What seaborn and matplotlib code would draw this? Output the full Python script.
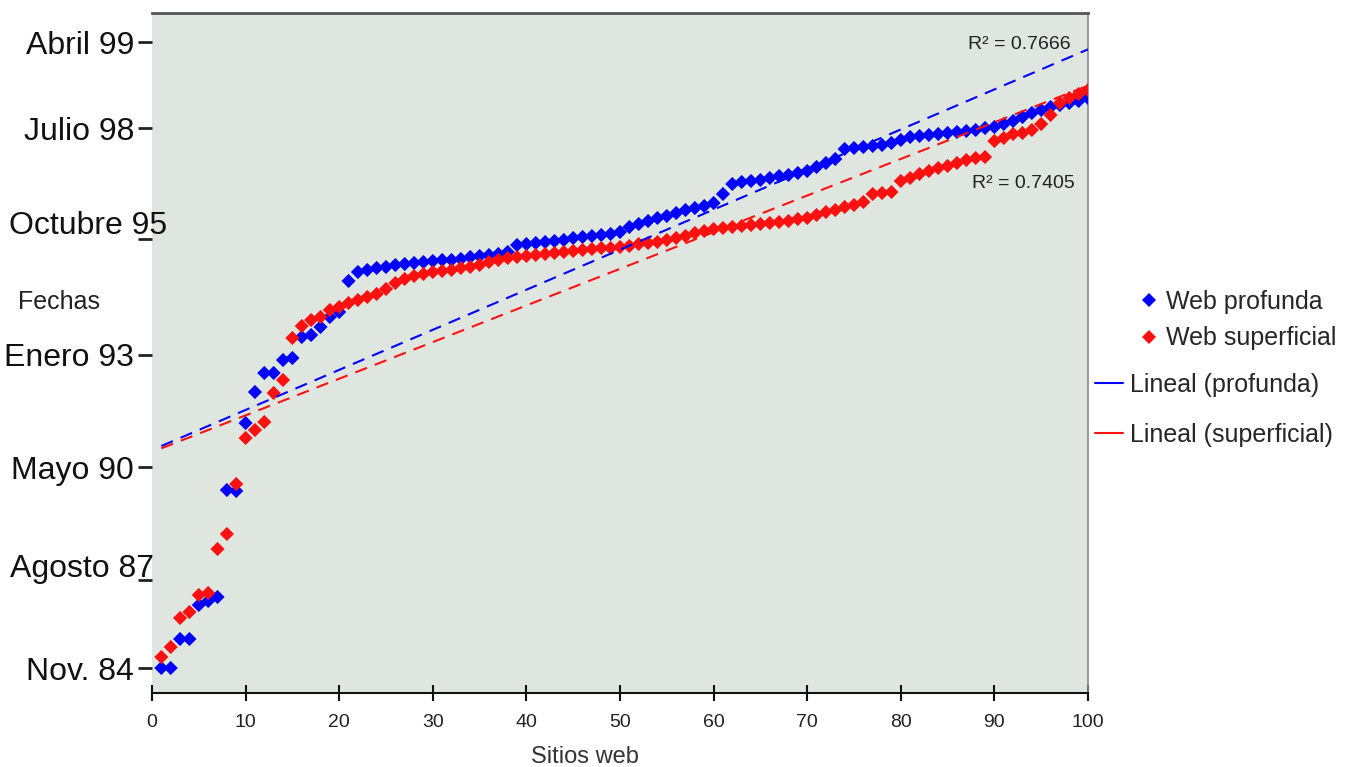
import numpy as np
import pandas as pd
import matplotlib
matplotlib.use("Agg")
import matplotlib.pyplot as plt
import matplotlib.transforms as mtransforms
from matplotlib.lines import Line2D
import seaborn as sns

# sitios web ordenados (eje x)
sitios = list(range(1, 101))

# posicion de la fecha de creacion en la escala del eje y (escala propia del grafico)
profunda = [25, 25, 54, 54, 88, 92, 96, 203, 202, 270,
            301, 320, 320, 333, 335, 356, 358, 366, 376, 381,
            412, 421, 423, 425, 426, 428, 429, 430, 431, 432,
            433, 433, 434, 436, 437, 438, 439, 441, 448, 449,
            450, 451, 452, 453, 455, 456, 457, 458, 459, 461,
            466, 469, 472, 475, 477, 480, 483, 485, 487, 490,
            499, 509, 511, 512, 513, 515, 517, 518, 520, 522,
            526, 530, 534, 544, 545, 546, 547, 548, 550, 553,
            556, 557, 558, 559, 560, 561, 562, 563, 565, 566,
            569, 572, 576, 580, 583, 586, 588, 590, 592, 595]

superficial = [36, 46, 75, 81, 98, 100, 144, 159, 209, 255,
               263, 271, 300, 313, 355, 367, 373, 376, 383, 386,
               390, 393, 396, 399, 404, 410, 414, 417, 419, 421,
               422, 423, 425, 426, 428, 431, 433, 435, 436, 437,
               438, 439, 440, 441, 442, 443, 444, 445, 445, 446,
               447, 449, 450, 451, 453, 455, 457, 460, 462, 464,
               465, 466, 467, 468, 469, 470, 471, 472, 474, 475,
               478, 481, 483, 486, 488, 491, 499, 500, 501, 512,
               515, 519, 522, 525, 527, 530, 533, 535, 536, 552,
               555, 559, 560, 563, 569, 578, 590, 595, 599, 603]

fecha_pos = [25, 113, 226, 338, 454, 565, 651]
fecha_labels = ["Nov. 84", "Agosto 87", "Mayo 90", "Enero 93",
                "Octubre 95", "Julio 98", "Abril 99"]
x_ticks = list(range(0, 101, 10))
r2_profunda = "R² = 0.7666"
r2_superficial = "R² = 0.7405"

BLUE = "#0000ff"
RED = "#ff1010"

sns.set_style("white")
plt.rcParams["font.family"] = ["Liberation Sans", "DejaVu Sans"]

df = pd.DataFrame({
    "sitio": sitios * 2,
    "fecha": profunda + superficial,
    "serie": ["Web profunda"] * len(profunda) + ["Web superficial"] * len(superficial),
})

fig = plt.figure(figsize=(13.56, 7.67), dpi=100)
ax = fig.add_axes([152 / 1356, 1 - 693 / 767, 936 / 1356, 680 / 767])
ax.set_facecolor("#dfe6df")

sns.scatterplot(data=df, x="sitio", y="fecha", hue="serie",
                palette={"Web profunda": BLUE, "Web superficial": RED},
                marker="D", s=52, linewidth=0, ax=ax, zorder=3, legend=True)

sns.regplot(x=sitios, y=profunda, scatter=False, ci=None, ax=ax,
            line_kws={"color": BLUE, "lw": 1.5, "ls": (0, (6, 4)), "zorder": 4})
sns.regplot(x=sitios, y=superficial, scatter=False, ci=None, ax=ax,
            line_kws={"color": RED, "lw": 1.5, "ls": (0, (6, 4)), "zorder": 4})

ax.set_xlim(0, 100)
ax.set_ylim(0, 680)
ax.set_ylabel("")

ax.set_xticks(x_ticks)
ax.set_yticks(fecha_pos, labels=fecha_labels)
ax.tick_params(axis="x", bottom=True, direction="inout", length=12, width=1.5,
               labelsize=14, pad=9, color="#111", labelcolor="#222")
ax.tick_params(axis="y", left=True, direction="out", length=10, width=2,
               labelsize=23, pad=3, color="#222", labelcolor="#111")

# algunas etiquetas de fecha estan desplazadas sobre su marca
offsets = {"Octubre 95": (33, 17), "Agosto 87": (20, 15)}
for lbl in ax.get_yticklabels():
    if lbl.get_text() in offsets:
        dx, dy = offsets[lbl.get_text()]
        lbl.set_transform(lbl.get_transform() +
                          mtransforms.ScaledTranslation(dx / 100, dy / 100, fig.dpi_scale_trans))

ax.spines["left"].set_visible(False)
ax.spines["top"].set_color("#555555")
ax.spines["top"].set_linewidth(2)
ax.spines["right"].set_color("#888888")
ax.spines["right"].set_linewidth(1.2)
ax.spines["bottom"].set_color("#111111")
ax.spines["bottom"].set_linewidth(1.5)

ax.text(0.981, 0.953, r2_profunda, transform=ax.transAxes, ha="right", va="center",
        fontsize=14, color="#222222")
ax.text(0.986, 0.75, r2_superficial, transform=ax.transAxes, ha="right", va="center",
        fontsize=14, color="#222222")

ax.set_xlabel("Sitios web", fontsize=17, color="#333333")
ax.xaxis.set_label_coords((585 - 152) / 936, -0.078)

fig.text(18 / 1356, 1 - 302 / 767, "Fechas", fontsize=18, va="center", color="#222222")

handles, labels = ax.get_legend_handles_labels()
hmap = dict(zip(labels, handles))
if ax.get_legend() is not None:
    ax.get_legend().remove()

pts = ["Web profunda", "Web superficial"]
lns = ["Lineal (profunda)", "Lineal (superficial)"]
line_handles = [Line2D([], [], color=BLUE, lw=1.5), Line2D([], [], color=RED, lw=1.5)]
fig.legend([hmap[k] for k in pts], pts, loc="upper left",
           bbox_to_anchor=(1136 / 1356, 1 - 290 / 767), frameon=False,
           fontsize=18, labelspacing=0.5, handlelength=1.0, handletextpad=0.2,
           borderpad=0, borderaxespad=0)
fig.legend(line_handles, lns, loc="upper left",
           bbox_to_anchor=(1095 / 1356, 1 - 373 / 767), frameon=False,
           fontsize=18, labelspacing=1.05, handlelength=1.1, handletextpad=0.3,
           borderpad=0, borderaxespad=0)

fig.savefig("out.png", dpi=100)
